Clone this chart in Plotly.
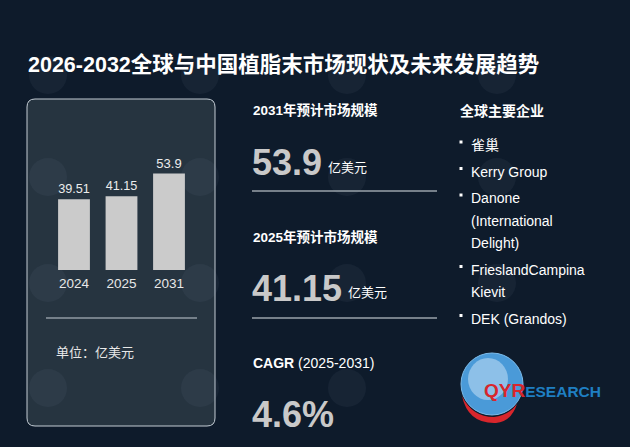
import plotly.graph_objects as go

# ---------------- data ----------------
title_text = "2026-2032全球与中国植脂末市场现状及未来发展趋势"
years = ["2024", "2025", "2031"]
market_size = [39.51, 41.15, 53.9]
unit_label = "单位：亿美元"
unit = "亿美元"
stat_titles = ["2031年预计市场规模", "2025年预计市场规模"]
stat_values = ["53.9", "41.15"]
cagr_label_bold = "CAGR"
cagr_period = "(2025-2031)"
cagr_value = "4.6%"
companies_header = "全球主要企业"
companies = [
    ["雀巢"],
    ["Kerry Group"],
    ["Danone", "(International", "Delight)"],
    ["FrieslandCampina", "Kievit"],
    ["DEK (Grandos)"],
]

W, H = 630, 447
BG = "#0e1b2b"
PANEL = "#263440"
LAT = "Liberation Sans, Arial, Noto Sans CJK SC, sans-serif"
CJK = "Noto Sans CJK SC, Liberation Sans, sans-serif"


def px(x):
    return x / W


def py(y):
    return 1 - y / H


def rounded_rect(x0, y0, x1, y1, r):
    return (
        f"M {px(x0 + r)} {py(y0)} L {px(x1 - r)} {py(y0)} "
        f"Q {px(x1)} {py(y0)} {px(x1)} {py(y0 + r)} "
        f"L {px(x1)} {py(y1 - r)} Q {px(x1)} {py(y1)} {px(x1 - r)} {py(y1)} "
        f"L {px(x0 + r)} {py(y1)} Q {px(x0)} {py(y1)} {px(x0)} {py(y1 - r)} "
        f"L {px(x0)} {py(y0 + r)} Q {px(x0)} {py(y0)} {px(x0 + r)} {py(y0)} Z"
    )


fig = go.Figure()
fig.add_trace(
    go.Bar(
        x=years,
        y=market_size,
        marker=dict(color="#cbcbcb", line=dict(width=0)),
        text=market_size,
        texttemplate="%{y}",
        textposition="outside",
        textfont=dict(family=LAT, size=13, color="#ececec"),
        cliponaxis=False,
        hoverinfo="skip",
    )
)

shapes = []
annotations = []

# panel
shapes.append(dict(type="path", xref="paper", yref="paper", layer="below",
                   path=rounded_rect(27, 99, 215, 426, 8),
                   fillcolor=PANEL, line=dict(color="#c3ccd4", width=1)))

# faint background watermarks
for wy in (75, 177, 283, 388):
    for wx in (48, 200, 347, 497):
        shapes.append(dict(type="circle", xref="paper", yref="paper", layer="below",
                           x0=px(wx - 19), x1=px(wx + 19), y0=py(wy + 19), y1=py(wy - 19),
                           fillcolor="rgba(140,150,185,0.07)", line=dict(width=0)))

# separator line inside panel
shapes.append(dict(type="line", xref="paper", yref="paper",
                   x0=px(46), x1=px(197), y0=py(318), y1=py(318),
                   line=dict(color="#c3ccd4", width=1.2)))
annotations.append(dict(text=unit_label, x=px(54), y=py(351), xref="paper", yref="paper",
                        xanchor="left", yanchor="middle", showarrow=False,
                        font=dict(family=CJK, size=13, color="#e8e8e8")))

# title
annotations.append(dict(text=f"<b>{title_text}</b>", x=px(26), y=py(65), xref="paper", yref="paper",
                        xanchor="left", yanchor="middle", showarrow=False,
                        font=dict(family=LAT, size=21.5, color="#ffffff")))

# middle stats
stat_rows = [(110, 163, 326, 191), (237, 288, 346, 318)]
for (ty, vy, ux, ly), t, v in zip(stat_rows, stat_titles, stat_values):
    annotations.append(dict(text=f"<b>{t}</b>", x=px(251), y=py(ty), xref="paper", yref="paper",
                            xanchor="left", yanchor="middle", showarrow=False,
                            font=dict(family=LAT, size=13.5, color="#ffffff")))
    annotations.append(dict(text=f"<b>{v}</b>", x=px(250), y=py(vy), xref="paper", yref="paper",
                            xanchor="left", yanchor="middle", showarrow=False,
                            font=dict(family=LAT, size=36, color="#c9c9c9")))
    annotations.append(dict(text=unit, x=px(ux), y=py(vy + 3), xref="paper", yref="paper",
                            xanchor="left", yanchor="middle", showarrow=False,
                            font=dict(family=CJK, size=13, color="#ffffff")))
    shapes.append(dict(type="line", xref="paper", yref="paper",
                       x0=px(252), x1=px(437), y0=py(ly), y1=py(ly),
                       line=dict(color="#9aa3ab", width=1.5)))

annotations.append(dict(text=f"<b>{cagr_label_bold}</b> {cagr_period}", x=px(251), y=py(363),
                        xref="paper", yref="paper", xanchor="left", yanchor="middle", showarrow=False,
                        font=dict(family=LAT, size=14, color="#ffffff")))
annotations.append(dict(text=f"<b>{cagr_value}</b>", x=px(250), y=py(414), xref="paper", yref="paper",
                        xanchor="left", yanchor="middle", showarrow=False,
                        font=dict(family=LAT, size=36, color="#c9c9c9")))

# right column
annotations.append(dict(text=f"<b>{companies_header}</b>", x=px(458), y=py(110), xref="paper", yref="paper",
                        xanchor="left", yanchor="middle", showarrow=False,
                        font=dict(family=CJK, size=14, color="#ffffff")))
yc = 145
for lines in companies:
    shapes.append(dict(type="rect", xref="paper", yref="paper",
                       x0=px(459.5), x1=px(462.5), y0=py(yc - 4.5), y1=py(yc - 1.5),
                       fillcolor="#ffffff", line=dict(width=0)))
    for i, ln in enumerate(lines):
        annotations.append(dict(text=ln, x=px(469), y=py(yc), xref="paper", yref="paper",
                                xanchor="left", yanchor="middle", showarrow=False,
                                font=dict(family=LAT, size=14, color="#ffffff")))
        if i < len(lines) - 1:
            yc += 22.5
    yc += 26.5

# logo
shapes.append(dict(type="path", xref="paper", yref="paper",
                   path=(f"M {px(462)} {py(396)} Q {px(468)} {py(424)} {px(496)} {py(423)} "
                         f"Q {px(511)} {py(422)} {px(517)} {py(404)} "
                         f"Q {px(508)} {py(416)} {px(494)} {py(417)} "
                         f"Q {px(472)} {py(417)} {px(462)} {py(396)} Z"),
                   fillcolor="#d8262c", line=dict(width=0)))
shapes.append(dict(type="circle", xref="paper", yref="paper",
                   x0=px(461), x1=px(523), y0=py(415), y1=py(353),
                   fillcolor="#4a9ad8", line=dict(color="#7cbbe9", width=1)))
shapes.append(dict(type="circle", xref="paper", yref="paper",
                   x0=px(468), x1=px(508), y0=py(400), y1=py(358),
                   fillcolor="#cfe6f8", line=dict(width=0), opacity=0.5))
annotations.append(dict(
    text="<b><span style='color:#d8262c;font-size:19px'>QYR</span>"
         "<span style='color:#1f7fc2;font-size:15.5px'>ESEARCH</span></b>",
    x=px(482), y=py(390), xref="paper", yref="paper", xanchor="left", yanchor="middle",
    showarrow=False, font=dict(family=LAT, size=16, color="#1f7fc2")))

fig.update_layout(
    width=W, height=H,
    margin=dict(l=0, r=0, t=0, b=0),
    paper_bgcolor=BG, plot_bgcolor="rgba(0,0,0,0)",
    showlegend=False,
    bargap=0.33,
    xaxis=dict(domain=[px(50.25), px(192.75)], showgrid=False, zeroline=False, showline=False,
               ticks="", ticklabelstandoff=3,
               tickfont=dict(family=LAT, size=13.5, color="#e8e8e8"), fixedrange=True),
    yaxis=dict(domain=[py(270), py(270 - 60 * 1.79)], range=[0, 60], visible=False, fixedrange=True),
    shapes=shapes,
    annotations=annotations,
)

fig.write_html(
    "out.html",
    config={"displayModeBar": False},
    post_script="document.body.style.margin='0';document.body.style.background='#0e1b2b';",
)
